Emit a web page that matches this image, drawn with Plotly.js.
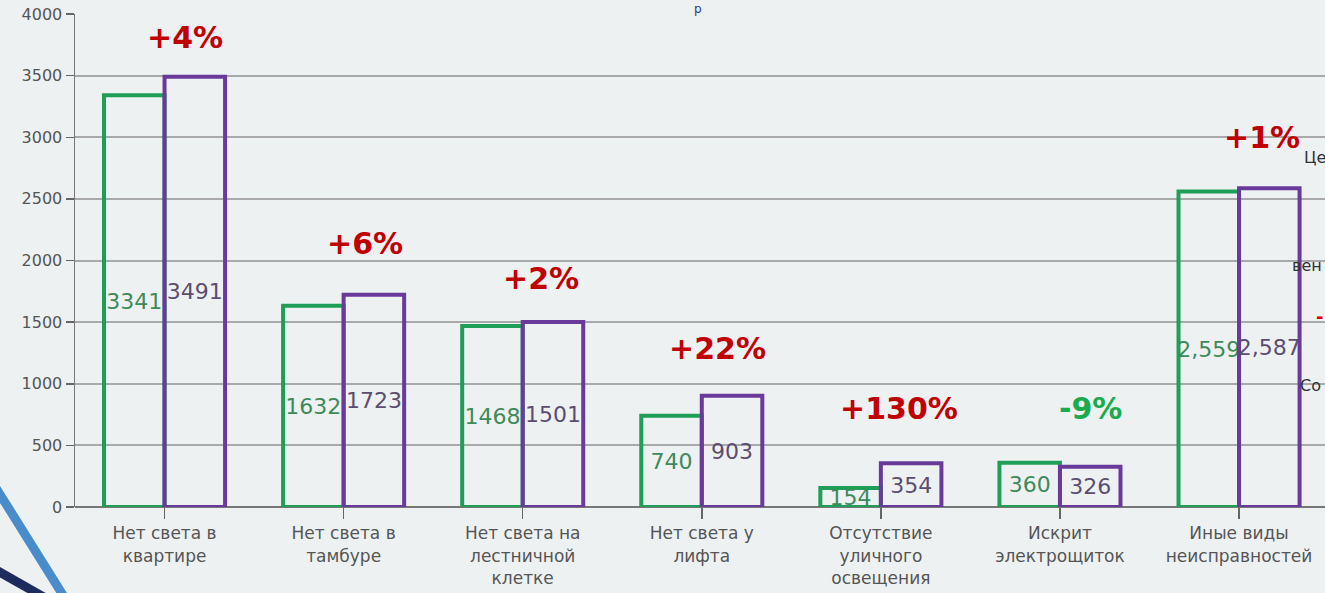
<!DOCTYPE html>
<html>
<head>
<meta charset="utf-8">
<script src="https://cdn.plot.ly/plotly-3.0.1.min.js"></script>
<style>
html,body{margin:0;padding:0;background:#eef1f2;overflow:hidden;}
#chart{width:1325px;height:593px;}
</style>
</head>
<body>
<div id="chart"></div>
<script>
// ---- data ----
var categories = [
  "Нет света в<br>квартире",
  "Нет света в<br>тамбуре",
  "Нет света на<br>лестничной<br>клетке",
  "Нет света у<br>лифта",
  "Отсутствие<br>уличного<br>освещения",
  "Искрит<br>электрощиток",
  "Иные виды<br>неисправностей"
];
var seriesPrev = [3341, 1632, 1468, 740, 154, 360, 2559];
var seriesCurr = [3491, 1723, 1501, 903, 354, 326, 2587];
var labelsPrev = ["3341", "1632", "1468", "740", "154", "360", "2,559"];
var labelsCurr = ["3491", "1723", "1501", "903", "354", "326", "2,587"];
var changeLabels = ["+4%", "+6%", "+2%", "+22%", "+130%", "-9%", "+1%"];
var yTicks = [0, 500, 1000, 1500, 2000, 2500, 3000, 3500, 4000];

// ---- placement of change labels (layout only) ----
var changeX = [0.115, 1.12, 2.10, 3.09, 4.10, 5.17, 6.13];
var changeY = [3813, 2134, 1858, 1282, 803, 803, 2994];

var FONT = "DejaVu Sans, Liberation Sans, Arial, sans-serif";
var green = "#1f9e58";
var purple = "#6a3a9a";
var idx = categories.map(function(c, i){ return i; });

var traces = [
  {
    type: "bar", x: idx, y: seriesPrev, text: labelsPrev,
    textposition: "inside", insidetextanchor: "middle", constraintext: "none", textangle: 0,
    textfont: {family: FONT, size: 22, color: "#3d8a5a"},
    marker: {color: "rgba(0,0,0,0)", line: {color: green, width: 4}},
    hoverinfo: "skip", showlegend: false
  },
  {
    type: "bar", x: idx, y: seriesCurr, text: labelsCurr,
    textposition: "inside", insidetextanchor: "middle", constraintext: "none", textangle: 0,
    textfont: {family: FONT, size: 22, color: "#5b4d70"},
    marker: {color: "rgba(0,0,0,0)", line: {color: purple, width: 4}},
    hoverinfo: "skip", showlegend: false
  }
];

var annotations = changeLabels.map(function(t, i){
  var neg = t.charAt(0) === "-";
  return {
    x: changeX[i], y: changeY[i], xref: "x", yref: "y",
    text: "<b>" + t + "</b>", showarrow: false,
    xanchor: "center", yanchor: "middle",
    font: {family: FONT, size: 30, color: neg ? "#1aab4f" : "#c00000"}
  };
});

// partial texts of the cropped slide at the right edge and top
function px(x){ return (x - 75) / 1250; }
function py(y){ return (507 - y) / 493; }
var edgeFont = {family: FONT, size: 16, color: "#333333"};
annotations.push({xref:"paper", yref:"paper", x:px(1302), y:py(157), text:"Це", showarrow:false, xanchor:"left", yanchor:"middle", font:edgeFont});
annotations.push({xref:"paper", yref:"paper", x:px(1324), y:py(265), text:"вен", showarrow:false, xanchor:"right", yanchor:"middle", font:edgeFont});
annotations.push({xref:"paper", yref:"paper", x:px(1298), y:py(385), text:"Со", showarrow:false, xanchor:"left", yanchor:"middle", font:edgeFont});
annotations.push({xref:"paper", yref:"paper", x:px(1325), y:py(316), text:"<b>-</b>", showarrow:false, xanchor:"right", yanchor:"middle", font:{family:FONT, size:18, color:"#e00000"}});
annotations.push({xref:"paper", yref:"paper", x:px(698), y:py(0), text:"р", showarrow:false, xanchor:"center", yanchor:"top", font:{family:FONT, size:12, color:"#2a3a8c"}});

var shapes = [
  {type:"line", xref:"paper", yref:"paper", x0:px(-4), y0:py(488), x1:px(66), y1:py(600), line:{color:"#4a8ccb", width:9}, layer:"below"},
  {type:"line", xref:"paper", yref:"paper", x0:px(-4), y0:py(570), x1:px(56), y1:py(604), line:{color:"#1e2b5e", width:9}, layer:"below"}
];

var layout = {
  width: 1325, height: 593,
  margin: {l: 75, r: 0, t: 14, b: 86},
  paper_bgcolor: "#eef1f2",
  plot_bgcolor: "#eef1f2",
  barmode: "group", bargap: 0.324, bargroupgap: 0,
  showlegend: false,
  font: {family: FONT, color: "#555555"},
  xaxis: {
    range: [-0.5, 6.48],
    tickmode: "array", tickvals: idx, ticktext: categories,
    tickson: "boundaries", ticks: "outside", ticklen: 11, tickwidth: 1.5, tickcolor: "#666666",
    tickfont: {family: FONT, size: 17, color: "#555555"},
    showgrid: false, zeroline: false,
    showline: false, fixedrange: true
  },
  yaxis: {
    range: [0, 4000],
    tickmode: "array", tickvals: yTicks,
    ticks: "outside", ticklen: 8, tickwidth: 1.5, tickcolor: "#666666",
    tickfont: {family: FONT, size: 16, color: "#555555"},
    showgrid: true, gridcolor: "#a9a9a9", gridwidth: 2,
    zeroline: true, zerolinecolor: "#777777", zerolinewidth: 2,
    showline: true, linecolor: "#777777", linewidth: 1.5,
    fixedrange: true
  },
  annotations: annotations,
  shapes: shapes
};

Plotly.newPlot("chart", traces, layout, {displayModeBar: false, staticPlot: true});
</script>
</body>
</html>
